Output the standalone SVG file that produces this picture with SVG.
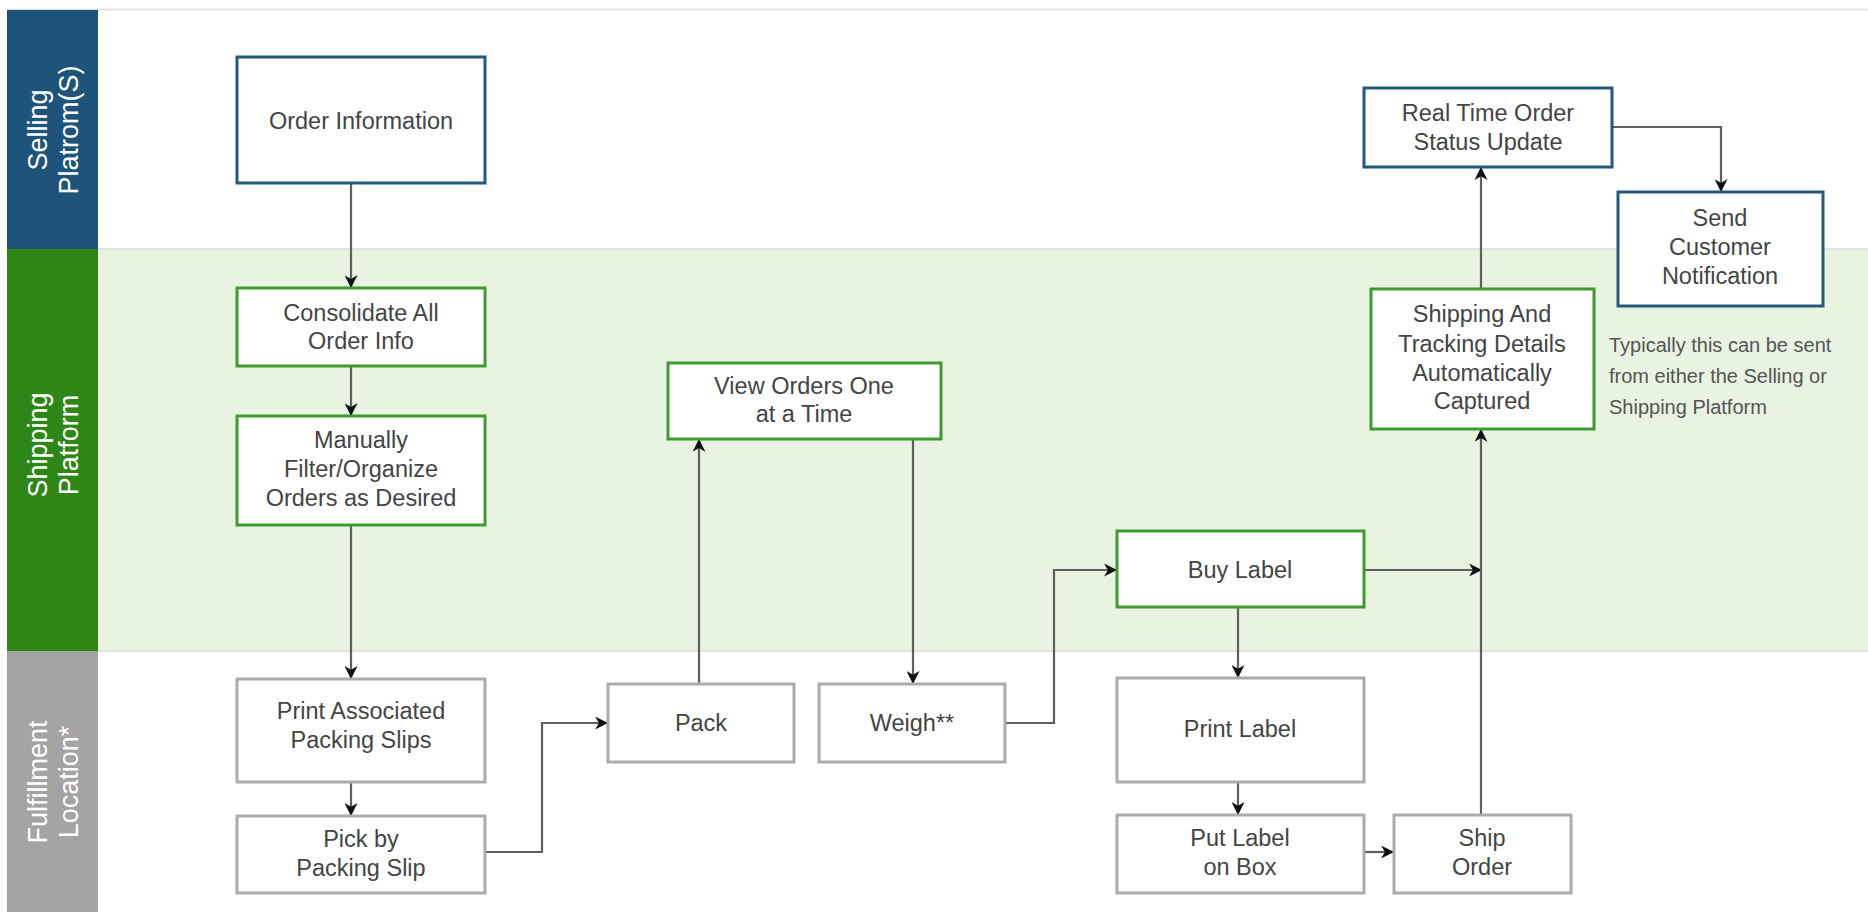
<svg xmlns="http://www.w3.org/2000/svg" width="1868" height="912" viewBox="0 0 1868 912">
  <defs>
    <marker id="arrow" viewBox="0 0 12 12" refX="11" refY="6" markerWidth="13" markerHeight="13" markerUnits="userSpaceOnUse" orient="auto">
      <path d="M0,0 L12,6 L0,12 L3.5,6 z" fill="#111"/>
    </marker>
    <style>
      .lane-label { font-family: "Liberation Sans", Arial, sans-serif; font-size: 27px; fill: #ffffff; text-anchor: middle; }
      .node rect { fill: #ffffff; stroke-width: 3; }
      .node text { font-family: "Liberation Sans", Arial, sans-serif; font-size: 23.5px; fill: #444444; text-anchor: middle; }
      .sell rect { stroke: #25597b; }
      .ship rect { stroke: #3f9a2e; }
      .ful rect { stroke: #ababab; }
      .note { font-family: "Liberation Sans", Arial, sans-serif; font-size: 20px; fill: #555555; }
      .conn path { fill: none; stroke: #5f5f5f; stroke-width: 2.2; marker-end: url(#arrow); }
      .sep { stroke: #dcdcdc; stroke-width: 1.5; }
    </style>
  </defs>

  <!-- swimlane backgrounds -->
  <rect x="0" y="0" width="1868" height="912" fill="#ffffff"/>
  <rect x="98" y="249" width="1770" height="402" fill="#e8f3e2"/>
  <line class="sep" x1="7" y1="9.5" x2="1868" y2="9.5"/>
  <line class="sep" x1="98" y1="249" x2="1868" y2="249"/>
  <line class="sep" x1="98" y1="651" x2="1868" y2="651"/>

  <!-- lane headers -->
  <g id="lane-selling">
    <rect x="7" y="10" width="91" height="239" fill="#1e5479"/>
    <text class="lane-label" transform="translate(47,130) rotate(-90)">Selling</text>
    <text class="lane-label" transform="translate(78,130) rotate(-90)">Platrom(S)</text>
  </g>
  <g id="lane-shipping">
    <rect x="7" y="249" width="91" height="402" fill="#2e8616"/>
    <text class="lane-label" transform="translate(47,445) rotate(-90)">Shipping</text>
    <text class="lane-label" transform="translate(78,445) rotate(-90)">Platform</text>
  </g>
  <g id="lane-fulfillment">
    <rect x="7" y="651" width="91" height="261" fill="#a5a3a4"/>
    <text class="lane-label" transform="translate(47,782) rotate(-90)">Fulfillment</text>
    <text class="lane-label" transform="translate(78,782) rotate(-90)">Location*</text>
  </g>

  <!-- connectors -->
  <g id="connectors" class="conn">
    <path d="M351,183 V287"/>
    <path d="M351,366 V415"/>
    <path d="M351,525 V678"/>
    <path d="M351,782 V815"/>
    <path d="M485,852 H542 V723 H607"/>
    <path d="M699,684 V440"/>
    <path d="M913,439 V683"/>
    <path d="M1005,723 H1054 V570 H1116"/>
    <path d="M1364,570 H1481"/>
    <path d="M1238,607 V677"/>
    <path d="M1238,782 V814"/>
    <path d="M1364,852 H1393"/>
    <path d="M1481,815 V430"/>
    <path d="M1481,289 V168"/>
    <path d="M1612,127 H1721 V191"/>
  </g>

  <!-- selling platform nodes -->
  <g id="order-information" class="node sell">
    <rect x="237" y="57" width="248" height="126"/>
    <text x="361" y="129">Order Information</text>
  </g>
  <g id="real-time-status" class="node sell">
    <rect x="1364" y="88" width="248" height="79"/>
    <text x="1488" y="121">Real Time Order</text>
    <text x="1488" y="150">Status Update</text>
  </g>
  <g id="send-notification" class="node sell">
    <rect x="1618" y="192" width="205" height="114"/>
    <text x="1720" y="226">Send</text>
    <text x="1720" y="255">Customer</text>
    <text x="1720" y="284">Notification</text>
  </g>

  <!-- shipping platform nodes -->
  <g id="consolidate" class="node ship">
    <rect x="237" y="288" width="248" height="78"/>
    <text x="361" y="321">Consolidate All</text>
    <text x="361" y="349">Order Info</text>
  </g>
  <g id="filter-organize" class="node ship">
    <rect x="237" y="416" width="248" height="109"/>
    <text x="361" y="448">Manually</text>
    <text x="361" y="477">Filter/Organize</text>
    <text x="361" y="506">Orders as Desired</text>
  </g>
  <g id="view-orders" class="node ship">
    <rect x="668" y="363" width="273" height="76"/>
    <text x="804" y="394">View Orders One</text>
    <text x="804" y="422">at a Time</text>
  </g>
  <g id="buy-label" class="node ship">
    <rect x="1117" y="531" width="247" height="76"/>
    <text x="1240" y="578">Buy Label</text>
  </g>
  <g id="tracking-captured" class="node ship">
    <rect x="1371" y="289" width="223" height="140"/>
    <text x="1482" y="322">Shipping And</text>
    <text x="1482" y="352">Tracking Details</text>
    <text x="1482" y="381">Automatically</text>
    <text x="1482" y="409">Captured</text>
  </g>
  <g id="notification-note">
    <text class="note" x="1609" y="352">Typically this can be sent</text>
    <text class="note" x="1609" y="383">from either the Selling or</text>
    <text class="note" x="1609" y="414">Shipping Platform</text>
  </g>

  <!-- fulfillment location nodes -->
  <g id="print-slips" class="node ful">
    <rect x="237" y="679" width="248" height="103"/>
    <text x="361" y="719">Print Associated</text>
    <text x="361" y="748">Packing Slips</text>
  </g>
  <g id="pick" class="node ful">
    <rect x="237" y="816" width="248" height="77"/>
    <text x="361" y="847">Pick by</text>
    <text x="361" y="876">Packing Slip</text>
  </g>
  <g id="pack" class="node ful">
    <rect x="608" y="684" width="186" height="78"/>
    <text x="701" y="731">Pack</text>
  </g>
  <g id="weigh" class="node ful">
    <rect x="819" y="684" width="186" height="78"/>
    <text x="912" y="731">Weigh**</text>
  </g>
  <g id="print-label" class="node ful">
    <rect x="1117" y="678" width="247" height="104"/>
    <text x="1240" y="737">Print Label</text>
  </g>
  <g id="put-label" class="node ful">
    <rect x="1117" y="815" width="247" height="78"/>
    <text x="1240" y="846">Put Label</text>
    <text x="1240" y="875">on Box</text>
  </g>
  <g id="ship-order" class="node ful">
    <rect x="1394" y="815" width="177" height="78"/>
    <text x="1482" y="846">Ship</text>
    <text x="1482" y="875">Order</text>
  </g>
</svg>
